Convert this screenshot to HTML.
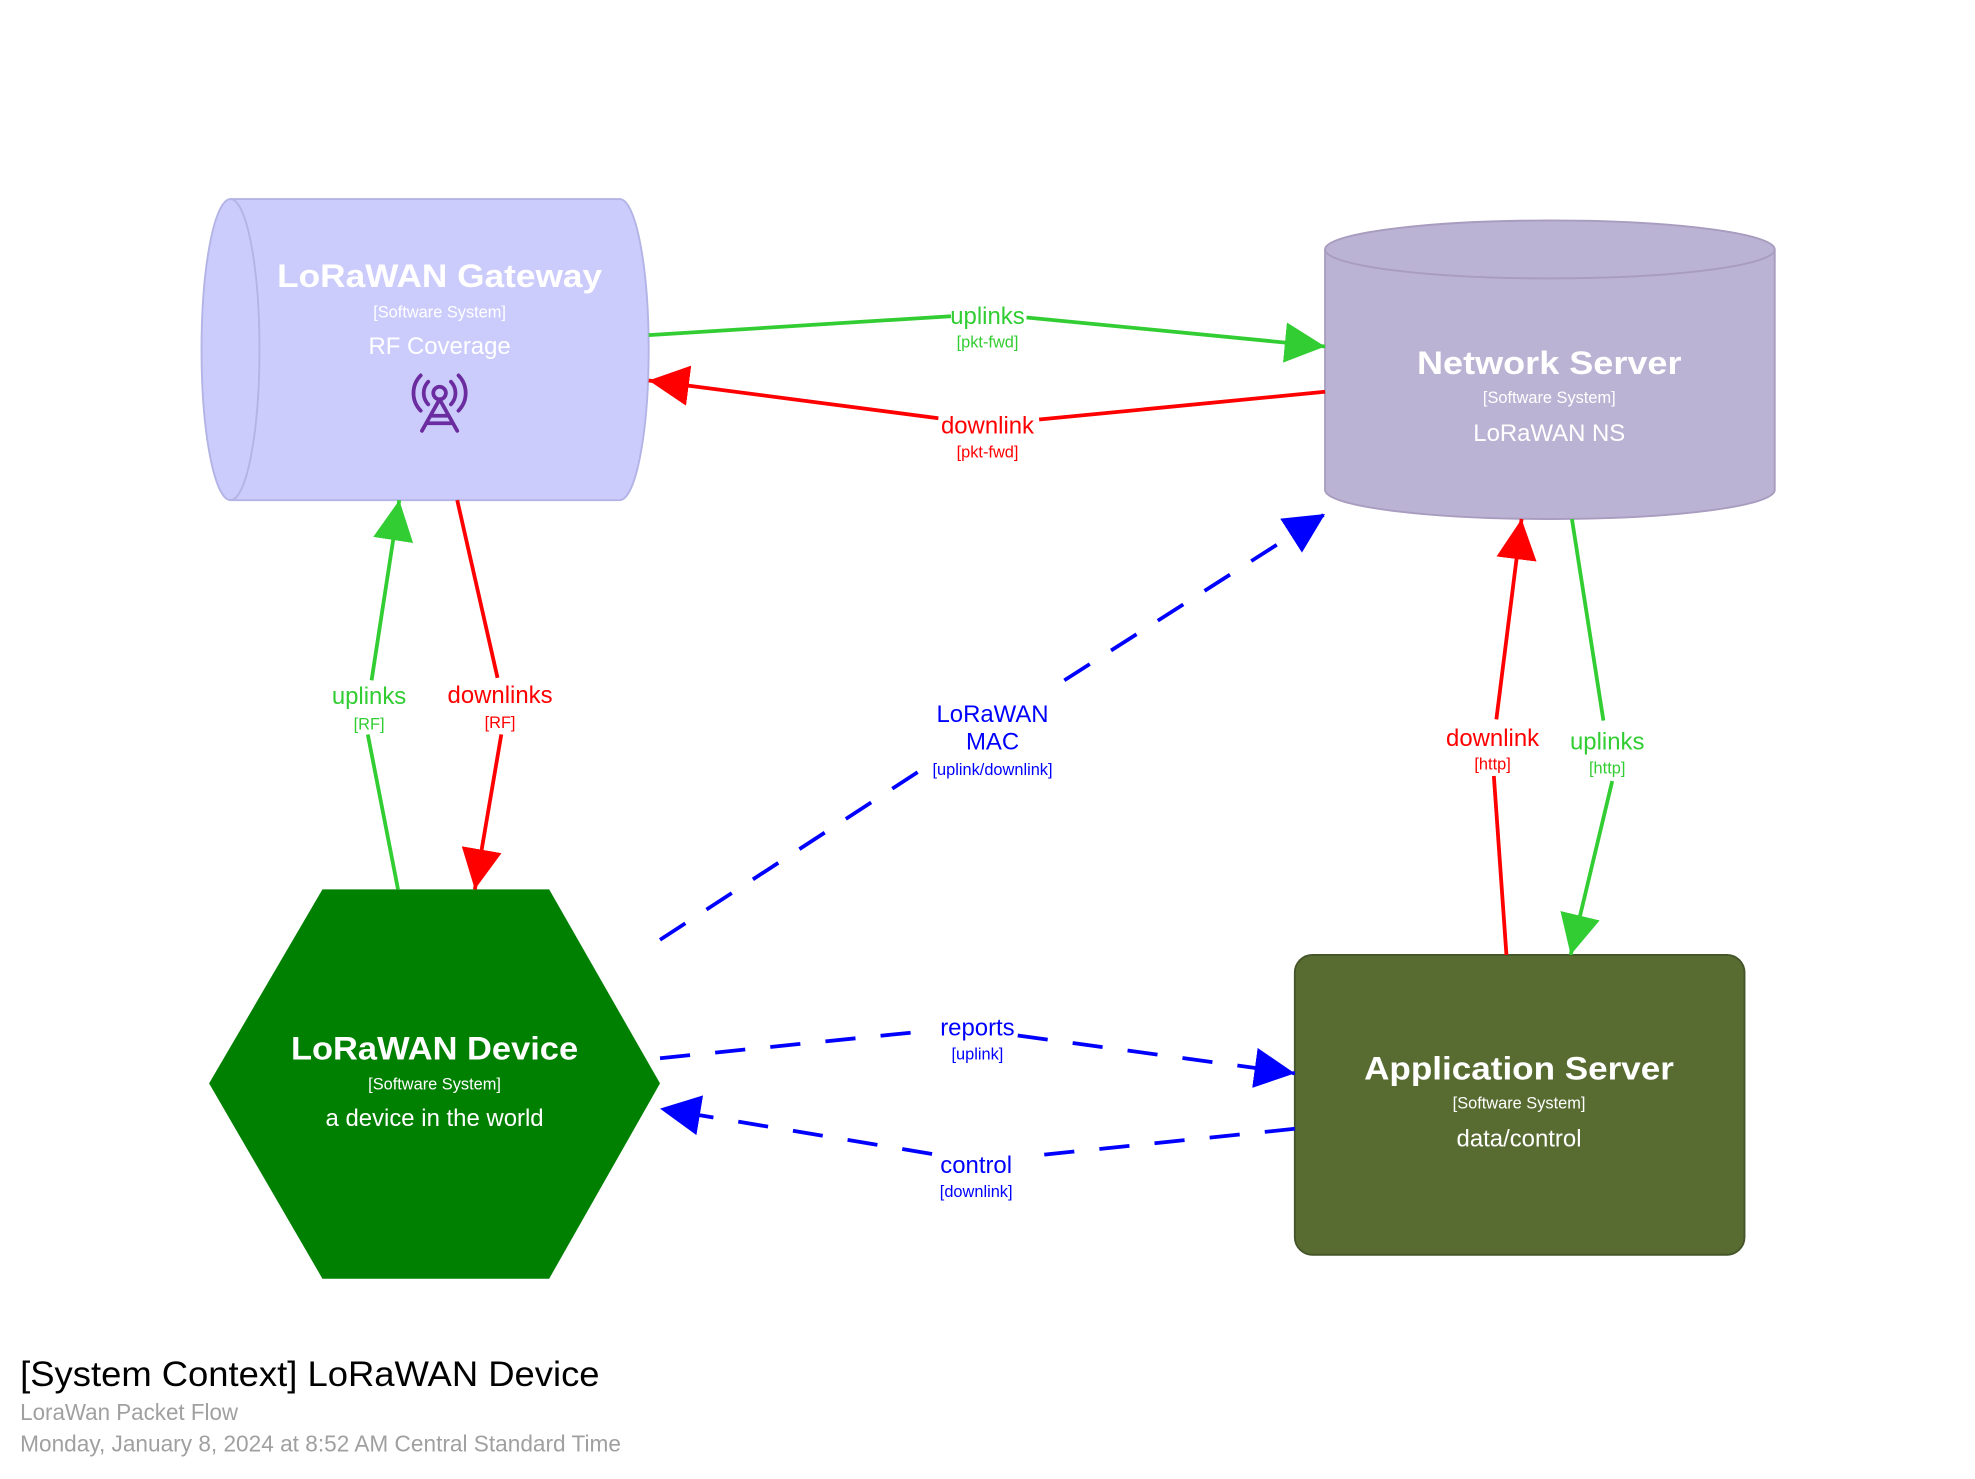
<!DOCTYPE html>
<html><head><meta charset="utf-8"><style>
html,body{margin:0;padding:0;background:#fff;}
svg{display:block;}
text{font-family:"Liberation Sans",sans-serif;}
</style></head><body>
<svg width="1975" height="1479" viewBox="0 0 1568 1174" preserveAspectRatio="none" xmlns="http://www.w3.org/2000/svg">
<defs>
<marker id="g" markerUnits="userSpaceOnUse" markerWidth="34" markerHeight="34" refX="32" refY="16" orient="auto"><path d="M0,0 L32,16 L0,32 Z" fill="#32CD32"/></marker>
<marker id="r" markerUnits="userSpaceOnUse" markerWidth="34" markerHeight="34" refX="32" refY="16" orient="auto"><path d="M0,0 L32,16 L0,32 Z" fill="#FF0000"/></marker>
<marker id="b" markerUnits="userSpaceOnUse" markerWidth="34" markerHeight="34" refX="32" refY="16" orient="auto"><path d="M0,0 L32,16 L0,32 Z" fill="#0000FF"/></marker>
</defs>

<path d="M183,158 L492,158 A23,119.5 0 0 1 492,397 L183,397 A23,119.5 0 0 1 183,158 Z" fill="#CCCCFC" stroke="#b3b3e6" stroke-width="1.5"/>
<path d="M183,158 A23,119.5 0 0 1 183,397" fill="none" stroke="#b3b3e6" stroke-width="1.5"/>
<text x="349" y="228" text-anchor="middle" font-size="26" font-weight="bold" fill="#fff" textLength="258" lengthAdjust="spacingAndGlyphs">LoRaWAN Gateway</text>
<text x="349" y="252" text-anchor="middle" font-size="13" fill="#fff">[Software System]</text>
<text x="349" y="281" text-anchor="middle" font-size="19" fill="#fff">RF Coverage</text>
<g stroke="#6a2c9e" stroke-width="3" fill="none" stroke-linecap="round">
<circle cx="349" cy="312" r="5"/>
<path d="M340,303 A13,13 0 0 0 340,321 M358,303 A13,13 0 0 1 358,321"/>
<path d="M334,298 A20,20 0 0 0 334,326 M364,298 A20,20 0 0 1 364,326"/>
<path d="M349,317 L335,342 M349,317 L363,342 M342,330 L356,330 M340,336 L358,336"/>
</g>

<path d="M1052,198 A178.5,23 0 0 1 1409,198 L1409,389 A178.5,23 0 0 1 1052,389 Z" fill="#BBB3D3" stroke="#a89cbf" stroke-width="1.5"/>
<path d="M1052,198 A178.5,23 0 0 0 1409,198" fill="none" stroke="#a89cbf" stroke-width="1.5"/>
<text x="1230" y="297" text-anchor="middle" font-size="26" font-weight="bold" fill="#fff" textLength="210" lengthAdjust="spacingAndGlyphs">Network Server</text>
<text x="1230" y="320" text-anchor="middle" font-size="13" fill="#fff">[Software System]</text>
<text x="1230" y="350" text-anchor="middle" font-size="19" fill="#fff">LoRaWAN NS</text>

<polygon points="166,860 256,706 436,706 524,860 436,1015 256,1015" fill="#008000"/>
<text x="345" y="841" text-anchor="middle" font-size="26" font-weight="bold" fill="#fff" textLength="228" lengthAdjust="spacingAndGlyphs">LoRaWAN Device</text>
<text x="345" y="865" text-anchor="middle" font-size="13" fill="#fff">[Software System]</text>
<text x="345" y="894" text-anchor="middle" font-size="19" fill="#fff">a device in the world</text>

<rect x="1028" y="758" width="357" height="238" rx="14" fill="#586C32" stroke="#45552a" stroke-width="1.5"/>
<text x="1206" y="857" text-anchor="middle" font-size="26" font-weight="bold" fill="#fff" textLength="246" lengthAdjust="spacingAndGlyphs">Application Server</text>
<text x="1206" y="880" text-anchor="middle" font-size="13" fill="#fff">[Software System]</text>
<text x="1206" y="910" text-anchor="middle" font-size="19" fill="#fff">data/control</text>

<g stroke-width="3" fill="none">
<path d="M515,266 L755,251" stroke="#32CD32"/>
<path d="M815,252 L1052,275" stroke="#32CD32" marker-end="url(#g)"/>
<path d="M1052,311 L825,333" stroke="#FF0000"/>
<path d="M745,332 L515,302" stroke="#FF0000" marker-end="url(#r)"/>

<path d="M316,706 L292,583" stroke="#32CD32"/>
<path d="M295,540 L317,397" stroke="#32CD32" marker-end="url(#g)"/>
<path d="M363,397 L395,538" stroke="#FF0000"/>
<path d="M398,583 L377,706" stroke="#FF0000" marker-end="url(#r)"/>

<path d="M524,746 L730,612" stroke="#0000FF" stroke-dasharray="24,20"/>
<path d="M845,540 L1052,408" stroke="#0000FF" stroke-dasharray="24,20" marker-end="url(#b)"/>

<path d="M1248,412 L1273,572" stroke="#32CD32"/>
<path d="M1280,620 L1247,758" stroke="#32CD32" marker-end="url(#g)"/>
<path d="M1196,758 L1186,616" stroke="#FF0000"/>
<path d="M1188,571 L1208,412" stroke="#FF0000" marker-end="url(#r)"/>

<path d="M524,840 L740,818" stroke="#0000FF" stroke-dasharray="24,20"/>
<path d="M808,822 L1028,852" stroke="#0000FF" stroke-dasharray="24,20" marker-end="url(#b)"/>
<path d="M1028,896 L815,918" stroke="#0000FF" stroke-dasharray="24,20"/>
<path d="M740,916 L524,880" stroke="#0000FF" stroke-dasharray="24,20" marker-end="url(#b)"/>
</g>

<g text-anchor="middle">
<text x="784" y="257" font-size="19" fill="#32CD32">uplinks</text>
<text x="784" y="276" font-size="13" fill="#32CD32">[pkt-fwd]</text>
<text x="784" y="344" font-size="19" fill="#FF0000">downlink</text>
<text x="784" y="363" font-size="13" fill="#FF0000">[pkt-fwd]</text>
<text x="293" y="559" font-size="19" fill="#32CD32">uplinks</text>
<text x="293" y="579" font-size="13" fill="#32CD32">[RF]</text>
<text x="397" y="558" font-size="19" fill="#FF0000">downlinks</text>
<text x="397" y="578" font-size="13" fill="#FF0000">[RF]</text>
<text x="788" y="573" font-size="19" fill="#0000FF">LoRaWAN</text>
<text x="788" y="595" font-size="19" fill="#0000FF">MAC</text>
<text x="788" y="615" font-size="13" fill="#0000FF">[uplink/downlink]</text>
<text x="1185" y="592" font-size="19" fill="#FF0000">downlink</text>
<text x="1185" y="611" font-size="13" fill="#FF0000">[http]</text>
<text x="1276" y="595" font-size="19" fill="#32CD32">uplinks</text>
<text x="1276" y="614" font-size="13" fill="#32CD32">[http]</text>
<text x="776" y="822" font-size="19" fill="#0000FF">reports</text>
<text x="776" y="841" font-size="13" fill="#0000FF">[uplink]</text>
<text x="775" y="931" font-size="19" fill="#0000FF">control</text>
<text x="775" y="950" font-size="13" fill="#0000FF">[downlink]</text>
</g>

<text x="16" y="1100" font-size="28" fill="#000" textLength="460" lengthAdjust="spacingAndGlyphs">[System Context] LoRaWAN Device</text>
<text x="16" y="1127" font-size="18" fill="#a0a0a0" textLength="173" lengthAdjust="spacingAndGlyphs">LoraWan Packet Flow</text>
<text x="16" y="1152" font-size="18" fill="#a0a0a0" textLength="477" lengthAdjust="spacingAndGlyphs">Monday, January 8, 2024 at 8:52 AM Central Standard Time</text>
</svg>
</body></html>
